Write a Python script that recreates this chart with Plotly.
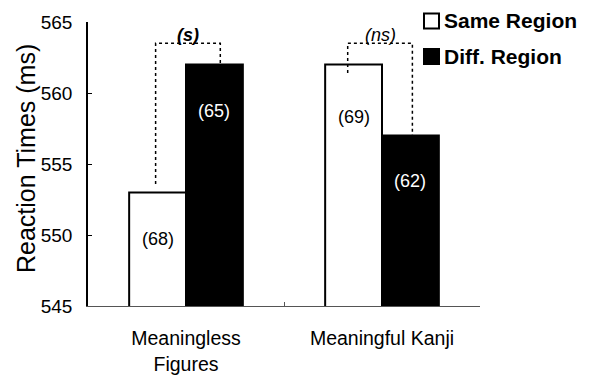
import plotly.graph_objects as go

categories = ["Meaningless<br>Figures", "Meaningful Kanji"]
same_region = [553, 562]
diff_region = [562, 557]
same_counts = ["(68)", "(69)"]
diff_counts = ["(65)", "(62)"]
same_count_y = [549.7, 558.3]
diff_count_y = [558.7, 553.8]
sig_labels = ["<b><i>(s)</i></b>", "<i>(ns)</i>"]
bracket_top = [563.5, 563.5]
bracket_left_start = [553.6, 561.4]
y_ticks = [545, 550, 555, 560, 565]
legend_names = ["Same Region", "Diff. Region"]
legend_colors = ["white", "black"]

# page body has an 8px margin: compensate so the plot area sits at x 88-480, y 22-306
OFF = 8
W, H = 591 - OFF, 377 - OFF
L, T = 88 - OFF, 22 - OFF
PW, PH = 392, 284
R, B = W - L - PW, H - T - PH


def px(xpix):
    return (xpix - 88) / PW


def py(ypix):
    return (306 - ypix) / PH


BARGAP = 0.42
half = (1 - BARGAP) / 4

fig = go.Figure()
fig.add_trace(go.Bar(
    x=categories, y=same_region, name=legend_names[0], showlegend=False,
    marker=dict(color="white", line=dict(color="black", width=2)),
))
fig.add_trace(go.Bar(
    x=categories, y=diff_region, name=legend_names[1], showlegend=False,
    marker=dict(color="black", line=dict(color="black", width=2)),
))

annotations = []
shapes = []
for i in range(2):
    xl = i - half
    xr = i + half
    annotations.append(dict(x=xl, y=same_count_y[i], text=same_counts[i], showarrow=False,
                            font=dict(size=18, color="black")))
    annotations.append(dict(x=xr, y=diff_count_y[i], text=diff_counts[i], showarrow=False,
                            font=dict(size=18, color="white")))
    xl_b = xl + (-0.01 if i == 0 else -0.03)
    xr_b = xr + (0.03 if i == 0 else 0.01)
    shapes.append(dict(type="path", xref="x", yref="y",
                       path=f"M {xl_b} {bracket_left_start[i]} L {xl_b} {bracket_top[i]} "
                            f"L {xr_b} {bracket_top[i]} L {xr_b} {diff_region[i]}",
                       line=dict(color="black", width=1.5, dash="dot")))
    annotations.append(dict(x=(xl_b + xr_b) / 2, y=bracket_top[i], yshift=-4,
                            text=sig_labels[i], showarrow=False, yanchor="bottom",
                            font=dict(size=18, color="black")))

# manual legend
leg_rows = [21, 56.5]
for name, col, yc in zip(legend_names, legend_colors, leg_rows):
    shapes.append(dict(type="rect", xref="paper", yref="paper",
                       x0=px(424), x1=px(439), y0=py(yc + 7.5), y1=py(yc - 7.5),
                       fillcolor=col, line=dict(color="black", width=2)))
    annotations.append(dict(xref="paper", yref="paper", x=px(442), y=py(yc),
                            xanchor="left", yanchor="middle", text=name, showarrow=False,
                            font=dict(size=21, color="black", weight="bold")))

# y-axis title
annotations.append(dict(xref="paper", yref="paper", x=px(26), y=py(159), textangle=-90,
                        text="Reaction Times (ms)", showarrow=False,
                        xanchor="center", yanchor="middle", font=dict(size=25, color="black")))

fig.update_layout(
    width=W, height=H,
    margin=dict(l=L, r=R, t=T, b=B, autoexpand=False),
    paper_bgcolor="white", plot_bgcolor="white",
    barmode="group", bargap=BARGAP, bargroupgap=0,
    font=dict(family="Liberation Sans", color="black"),
    showlegend=False,
    annotations=annotations,
    shapes=shapes,
)
fig.update_xaxes(
    type="category", range=[-0.5, 1.5],
    showline=True, linecolor="#555", linewidth=1, ticks="inside", tickson="boundaries",
    ticklen=4, tickcolor="#555", showgrid=False,
    tickfont=dict(size=19.5), ticklabelstandoff=15, zeroline=False, automargin=False,
)
fig.update_yaxes(
    range=[545, 565], tickvals=y_ticks, showline=True, linecolor="black", linewidth=1.5,
    ticks="inside", ticklen=4, tickcolor="black", showgrid=False, zeroline=False,
    tickfont=dict(size=19), ticklabelstandoff=10, automargin=False,
)
fig.write_html("out.html")
